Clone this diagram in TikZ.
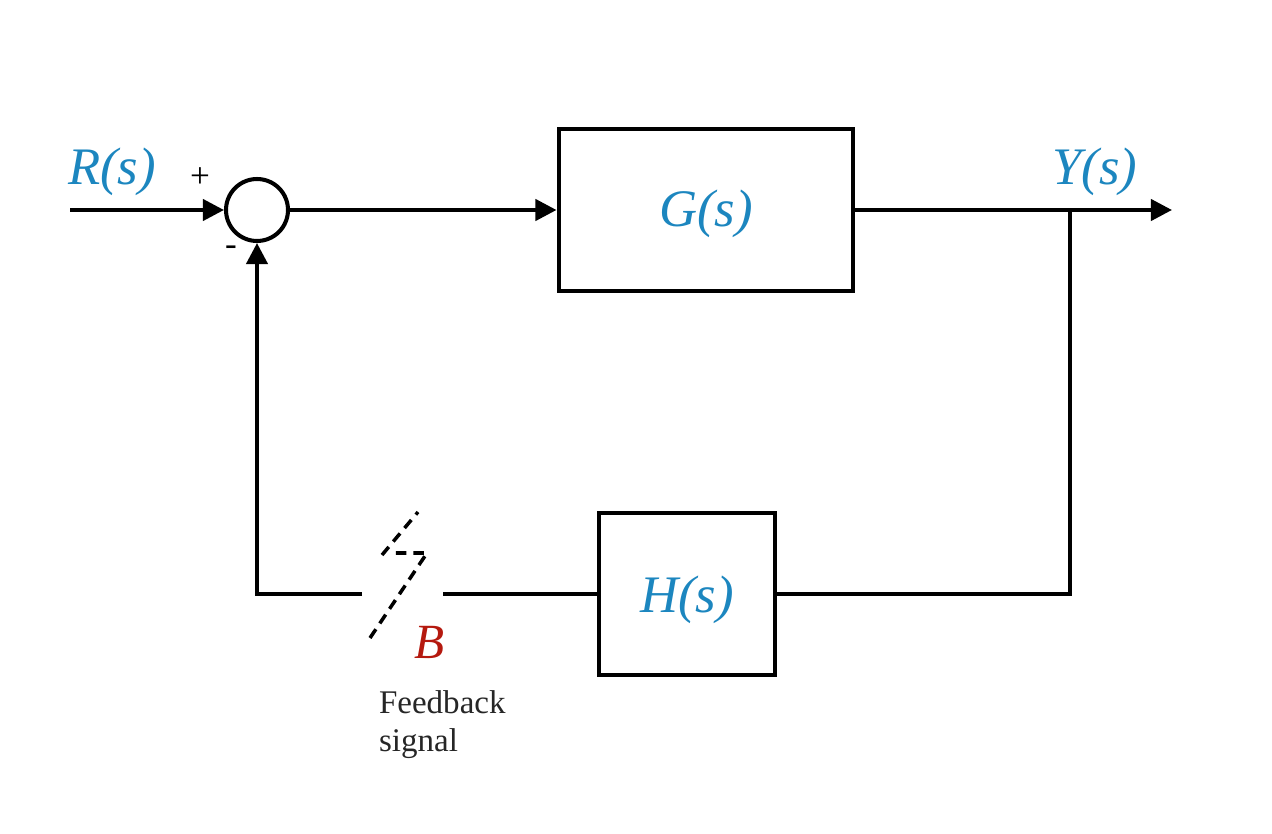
\documentclass[tikz,border=0pt]{standalone}
\usepackage{fontspec}
\setmainfont{Liberation Serif}
\usetikzlibrary{arrows.meta}
\definecolor{sigblue}{HTML}{1C86BF}
\definecolor{sigred}{HTML}{B5190F}

\begin{document}
\begin{tikzpicture}[x=0.02cm,y=-0.02cm,line width=2.3pt,
    >={Triangle[length=12pt,width=12pt]},
    blk/.style={draw,line width=2.3pt,inner sep=0pt},
    lbl/.style={text=sigblue,font=\fontsize{30}{30}\selectfont\itshape}]
    \useasboundingbox (0,0) rectangle (1272,834);
    % blocks
    \node[blk,circle,minimum size=1.24cm] (sum) at (257,210) {};
    \node[blk,minimum width=5.9cm,minimum height=3.24cm] (G) at (706,210) {};
    \node[blk,minimum width=3.52cm,minimum height=3.24cm] (H) at (687,594) {};
    \node[lbl] (Glab) at (706,214) {G(s)};
    \node[lbl] (Hlab) at (687,600) {H(s)};
    % free ends
    \coordinate (in) at (70,210);
    \coordinate (out) at (1172,210);
    \coordinate (branch) at (1070,210);
    \coordinate (swL) at (362,594);
    \coordinate (swR) at (443,594);
    % signals
    \draw[->] (in) -- (sum.west);
    \draw[->] (sum.east) -- (G.west);
    \draw[->] (G.east) -- (out);
    \draw (branch) |- (H.east);
    \draw (H.west) -- (swR);
    \draw[->] (swL) -| (sum.south);
    % switch
    \draw[dashed,line width=2pt,dash pattern=on 6pt off 4pt] (370,638) -- (427,553) -- (395,553);
    \draw[dashed,line width=2pt,dash pattern=on 6pt off 4pt] (382,555) -- (418,512);
    % labels
    \node[lbl] (Rlab) at (112,172) {R(s)};
    \node[lbl] (Ylab) at (1095,172) {Y(s)};
    \node[font=\fontsize{20}{20}\selectfont] (plus) at (200,178) {+};
    \node[font=\fontsize{20}{20}\selectfont] (minus) at (231,251) {-};
    \node[text=sigred,font=\fontsize{28}{28}\selectfont\itshape] (Blab) at (430,642) {B};
    \node[anchor=north west,align=left,inner sep=0pt,text=black!85,
      font=\fontsize{18.8}{21.5}\selectfont] (fb) at (377,689) {Feedback\\signal};
\end{tikzpicture}
\end{document}
